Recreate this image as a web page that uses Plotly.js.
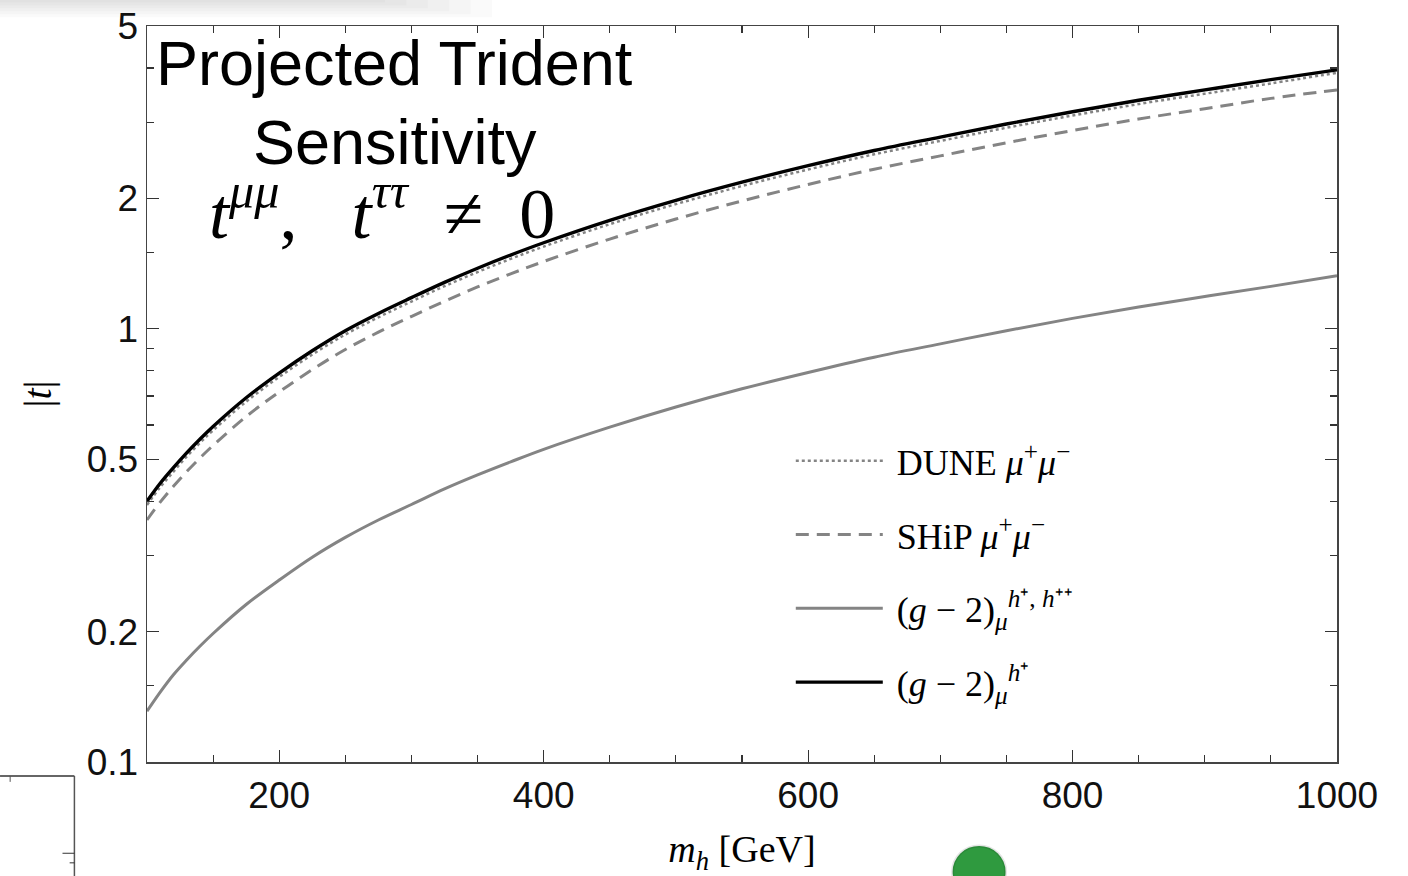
<!DOCTYPE html>
<html>
<head>
<meta charset="utf-8">
<script src="https://cdn.plot.ly/plotly-3.0.1.min.js"></script>
<style>html,body{margin:0;padding:0;background:#fff;}#chart{width:1408px;height:876px;}</style>
</head>
<body>
<div id="chart"></div>
<script>
// m_h [GeV]
const massGeV = [100,110,120,130,140,150,175,200,225,250,275,300,325,350,375,400,450,500,550,600,650,700,750,800,850,900,950,1000];
// (g-2)_mu h+ (black solid)
const g2HPlus = [0.40,0.44,0.478,0.517,0.556,0.595,0.693,0.79,0.89,0.99,1.085,1.18,1.28,1.38,1.48,1.58,1.78,1.98,2.18,2.38,2.58,2.77,2.97,3.17,3.37,3.56,3.76,3.96];
// DUNE mu+mu- (dotted)
const duneMuMu = [0.392,0.431,0.468,0.507,0.545,0.583,0.679,0.774,0.872,0.970,1.063,1.156,1.254,1.352,1.450,1.548,1.744,1.940,2.136,2.332,2.528,2.715,2.911,3.107,3.303,3.489,3.685,3.90];
// SHiP mu+mu- (dashed)
const shipMuMu = [0.362,0.398,0.433,0.468,0.503,0.538,0.627,0.715,0.805,0.896,0.982,1.068,1.158,1.249,1.339,1.430,1.611,1.792,1.973,2.154,2.335,2.507,2.688,2.869,3.050,3.222,3.403,3.56];
// (g-2)_mu h+, h++ (grey solid)
const g2HPlusPlus = [0.131,0.145,0.159,0.172,0.185,0.198,0.231,0.263,0.297,0.330,0.362,0.393,0.427,0.460,0.493,0.527,0.593,0.660,0.727,0.793,0.860,0.923,0.990,1.057,1.123,1.187,1.253,1.325];

const xMajorTicks = [200,400,600,800,1000];
const xMinorTicks = [150,250,300,350,450,500,550,650,700,750,850,900,950];
const yMajorTicks = [0.1,0.2,0.5,1,2,5];
const yMajorLabels = ['0.1','0.2','0.5','1','2','5'];
const yMinorTicks = [0.15,0.3,0.4,0.6,0.7,0.8,0.9,1.5,3,4];

const grey = '#848484';
const serif = 'Liberation Serif, Times New Roman, serif';
const sans = 'Liberation Sans, Arial, Helvetica, sans-serif';
const nb = '\u00a0';

const traces = [
  {x: massGeV, y: duneMuMu, mode: 'lines', name: nb + 'DUNE <i>μ</i><sup>+</sup><i>μ</i><sup>−</sup>',
   line: {color: grey, width: 2.5, dash: 'dot', shape: 'spline'}, legendgroup: 'a'},
  {x: massGeV, y: shipMuMu, mode: 'lines', name: nb + 'SHiP <i>μ</i><sup>+</sup><i>μ</i><sup>−</sup>',
   line: {color: grey, width: 3, dash: '13px,8px', shape: 'spline'}, legendgroup: 'b'},
  {x: massGeV, y: g2HPlusPlus, mode: 'lines', name: nb + '(<i>g</i> − 2)<sub><i>μ</i></sub><sup><i>h</i>⁺, <i>h</i>⁺⁺</sup>',
   line: {color: grey, width: 3, shape: 'spline'}, legendgroup: 'c'},
  {x: massGeV, y: g2HPlus, mode: 'lines', name: nb + '(<i>g</i> − 2)<sub><i>μ</i></sub><sup><i>h</i>⁺</sup>',
   line: {color: '#000', width: 3.4, shape: 'spline'}, legendgroup: 'd'}
];

const axisCommon = {
  showline: true, linecolor: '#444', linewidth: 1.5, mirror: 'ticks',
  ticks: 'inside', ticklen: 12, tickwidth: 1.2, tickcolor: '#333',
  showgrid: false, zeroline: false,
  tickfont: {family: sans, size: 37, color: '#111'}
};

const shadow = [];
for (let i = 0; i < 6; i++) {
  shadow.push({type: 'rect', xref: 'paper', yref: 'paper',
    x0: -0.124, x1: 0.20 + 0.018 * (5 - i), y0: 1.012 + 0.004 * i, y1: 1.04,
    line: {width: 0}, fillcolor: 'rgba(0,0,0,0.018)', layer: 'below'});
}

const layout = {
  width: 1408, height: 876,
  margin: {l: 147, r: 71, t: 26, b: 114},
  paper_bgcolor: '#fff', plot_bgcolor: '#fff',
  showlegend: true,
  legend: {x: 0.541, y: 0.45, xanchor: 'left', yanchor: 'top', bgcolor: 'rgba(0,0,0,0)',
           font: {family: serif, size: 36, color: '#000'}, itemwidth: 87, tracegroupgap: 24,
           traceorder: 'grouped'},
  xaxis: Object.assign({}, axisCommon, {
    type: 'linear', range: [100, 1000], tickmode: 'array', tickvals: xMajorTicks,
    ticktext: xMajorTicks.map(String),
    minor: {tickmode: 'array', tickvals: xMinorTicks, ticks: 'inside', ticklen: 7, tickcolor: '#333', tickwidth: 1.2},
    title: {text: '<i>m</i><sub><i>h</i></sub> [GeV]', font: {family: serif, size: 38, color: '#000'}, standoff: 24}
  }),
  yaxis: Object.assign({}, axisCommon, {
    type: 'log', range: [-1, Math.log10(5)], tickmode: 'array', tickvals: yMajorTicks, ticktext: yMajorLabels,
    minor: {tickmode: 'array', tickvals: yMinorTicks, ticks: 'inside', ticklen: 7, tickcolor: '#333', tickwidth: 1.2},
    title: {text: '|<i>t</i>|', font: {family: serif, size: 40, color: '#000'}, standoff: 22}
  }),
  annotations: [
    {xref: 'paper', yref: 'paper', x: 0.2084, y: 0.95, xanchor: 'center', yanchor: 'middle', showarrow: false,
     text: 'Projected Trident', font: {family: sans, size: 63, color: '#000'}},
    {xref: 'paper', yref: 'paper', x: 0.2084, y: 0.843, xanchor: 'center', yanchor: 'middle', showarrow: false,
     text: 'Sensitivity', font: {family: sans, size: 63, color: '#000'}},
    {xref: 'paper', yref: 'paper', x: 0.1975, y: 0.752, xanchor: 'center', yanchor: 'middle', showarrow: false,
     text: '<i>t</i><sup><i>μμ</i></sup>,' + nb + nb + nb + '<i>t</i><sup><i>ττ</i></sup>' + nb + nb + '≠' + nb + nb + '0',
     font: {family: serif, size: 72, color: '#000'}}
  ],
  shapes: shadow.concat([
    // stray frame fragment and green dot from the screenshot
    {type: 'line', xref: 'paper', yref: 'paper', x0: -0.1235, x1: -0.061, y0: -0.019, y1: -0.019, line: {color: '#333', width: 1.5}},
    {type: 'line', xref: 'paper', yref: 'paper', x0: -0.061, x1: -0.061, y0: -0.019, y1: -0.16, line: {color: '#555', width: 1.5}},
    {type: 'line', xref: 'paper', yref: 'paper', x0: -0.115, x1: -0.115, y0: -0.019, y1: -0.027, line: {color: '#555', width: 1}},
    {type: 'line', xref: 'paper', yref: 'paper', x0: -0.071, x1: -0.061, y0: -0.124, y1: -0.124, line: {color: '#333', width: 1}},
    {type: 'line', xref: 'paper', yref: 'paper', x0: -0.065, x1: -0.061, y0: -0.137, y1: -0.137, line: {color: '#333', width: 1}},
    {type: 'circle', xref: 'paper', yref: 'paper', x0: 0.677, x1: 0.7215, y0: -0.114, y1: -0.184, line: {color: 'rgba(0,0,0,0.10)', width: 3}, fillcolor: '#2f9a3f'}
  ])
};

Plotly.newPlot('chart', traces, layout, {displayModeBar: false, staticPlot: true});
</script>
</body>
</html>
